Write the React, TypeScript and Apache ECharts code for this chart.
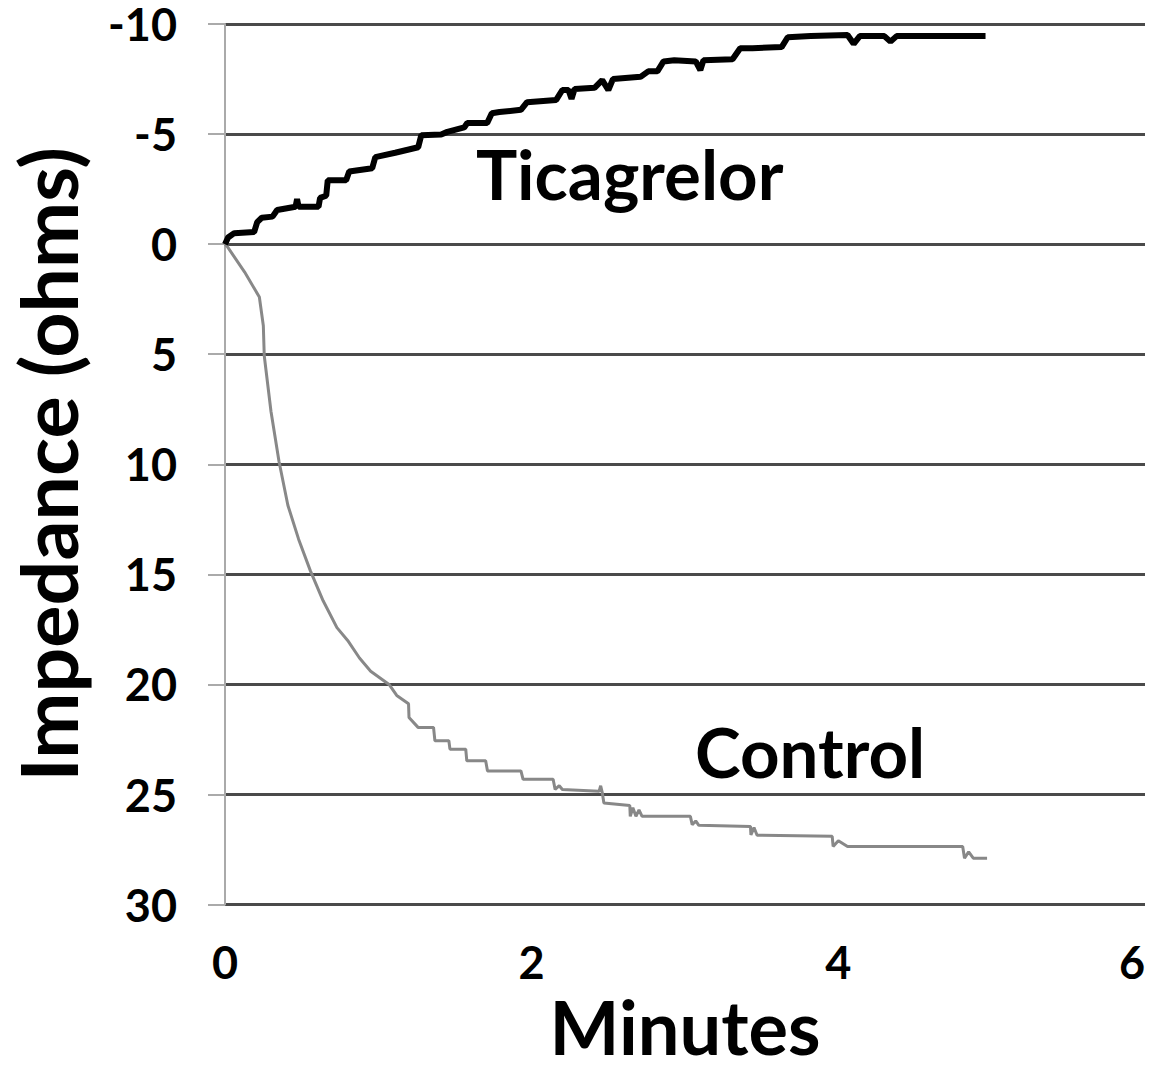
import React, { useEffect, useRef } from "react";
import * as echarts from "echarts";

// Axis ranges / ticks
const xRange = [0, 6];
const xStep = 2;
const yRange = [-10, 30];
const yStep = 5;

const xTitle = "Minutes";
const yTitle = "Impedance (ohms)";
const seriesNames = ["Control", "Ticagrelor"];

// Control (gray) trace: [minutes, ohms]
const controlData: number[][] = [
  [0, 0], [0.013, 0.09], [0.128, 1.27], [0.224, 2.4], [0.25, 3.71], [0.256, 5.07],
  [0.3, 7.6], [0.352, 9.86], [0.41, 11.86], [0.48, 13.4], [0.557, 14.84], [0.64, 16.2],
  [0.73, 17.42], [0.8, 18.0], [0.877, 18.8], [0.95, 19.4], [1.07, 20.0], [1.12, 20.5],
  [1.197, 20.88], [1.2, 21.5], [1.259, 21.95], [1.36, 21.95], [1.369, 22.56], [1.46, 22.56],
  [1.467, 22.94], [1.57, 22.94], [1.577, 23.47], [1.7, 23.47], [1.712, 23.93], [1.93, 23.93],
  [1.944, 24.31], [2.14, 24.31], [2.153, 24.77], [2.18, 24.6], [2.2, 24.77], [2.44, 24.85],
  [2.45, 24.6], [2.46, 24.9], [2.471, 25.38], [2.64, 25.5], [2.643, 25.99], [2.66, 25.6],
  [2.68, 25.99], [2.7, 25.7], [2.72, 25.99], [3.035, 25.99], [3.047, 26.37], [3.07, 26.2],
  [3.09, 26.4], [3.427, 26.45], [3.43, 26.83], [3.45, 26.5], [3.47, 26.85], [3.96, 26.9],
  [3.966, 27.36], [4.0, 27.1], [4.06, 27.36], [4.811, 27.36], [4.823, 27.89], [4.85, 27.6],
  [4.88, 27.89], [4.97, 27.89],
];

// Ticagrelor (black) trace: [minutes, ohms]
const ticagrelorData: number[][] = [
  [0, 0], [0.02, -0.3], [0.06, -0.5], [0.19, -0.55], [0.21, -1.0], [0.24, -1.2],
  [0.31, -1.25], [0.34, -1.55], [0.46, -1.7], [0.47, -2.05], [0.48, -1.7], [0.61, -1.7],
  [0.62, -2.1], [0.66, -2.2], [0.67, -2.9], [0.79, -2.9], [0.81, -3.3], [0.96, -3.45],
  [0.98, -3.95], [1.11, -4.15], [1.26, -4.4], [1.28, -4.95], [1.41, -4.98], [1.45, -5.1],
  [1.56, -5.3], [1.58, -5.5], [1.71, -5.5], [1.74, -5.95], [1.79, -6.0], [1.93, -6.1],
  [1.97, -6.45], [2.16, -6.55], [2.2, -7.0], [2.24, -7.0], [2.26, -6.6], [2.28, -7.05],
  [2.41, -7.1], [2.46, -7.45], [2.5, -7.0], [2.53, -7.5], [2.71, -7.6], [2.76, -7.85],
  [2.82, -7.85], [2.86, -8.3], [2.93, -8.35], [3.07, -8.3], [3.1, -7.9], [3.12, -8.35],
  [3.31, -8.4], [3.36, -8.9], [3.44, -8.9], [3.63, -8.95], [3.67, -9.4], [3.82, -9.45],
  [4.06, -9.5], [4.1, -9.1], [4.14, -9.45], [4.3, -9.45], [4.34, -9.2], [4.38, -9.45],
  [4.48, -9.45], [4.96, -9.45],
];

const FONT = "Lato, 'Open Sans', sans-serif";

export default function App() {
  const ref = useRef<HTMLDivElement>(null);

  useEffect(() => {
    if (!ref.current) return;
    const chart = echarts.init(ref.current, null, { renderer: "svg" });
    chart.setOption({
      animation: false,
      backgroundColor: "#ffffff",
      grid: { left: 213, top: 24, right: 12, bottom: 160, containLabel: false },
      xAxis: {
        type: "value",
        min: xRange[0],
        max: xRange[1],
        interval: xStep,
        name: xTitle,
        nameLocation: "middle",
        nameGap: 86,
        nameTextStyle: { fontFamily: FONT, fontWeight: "bold", fontSize: 74, lineHeight: 60, color: "#000" },
        axisLine: { show: false },
        axisTick: { show: false },
        splitLine: { show: false },
        axisLabel: {
          margin: 38,
          fontFamily: FONT,
          fontWeight: "bold",
          fontSize: 45,
          lineHeight: 38,
          color: "#000",
          alignMaxLabel: "right",
        },
      },
      yAxis: {
        type: "value",
        inverse: true,
        min: yRange[0],
        max: yRange[1],
        interval: yStep,
        name: yTitle,
        nameLocation: "middle",
        nameRotate: 90,
        nameGap: 138,
        nameTextStyle: { fontFamily: FONT, fontWeight: "bold", fontSize: 79, color: "#000" },
        axisLine: { show: true, lineStyle: { color: "#aaaaaa", width: 2 } },
        axisTick: { show: true, length: 17, lineStyle: { color: "#aaaaaa", width: 2 } },
        splitLine: { show: true, lineStyle: { color: "#4a4a4a", width: 3 } },
        axisLabel: {
          margin: 48,
          fontFamily: FONT,
          fontWeight: "bold",
          fontSize: 45,
          lineHeight: 38,
          color: "#000",
        },
      },
      series: [
        {
          name: seriesNames[0],
          type: "line",
          data: controlData,
          showSymbol: false,
          lineStyle: { color: "#888888", width: 3 },
          z: 3,
        },
        {
          name: seriesNames[1],
          type: "line",
          data: ticagrelorData,
          showSymbol: false,
          lineStyle: { color: "#000000", width: 6 },
          z: 4,
        },
      ],
      graphic: [
        {
          type: "text",
          left: 476,
          top: 139,
          style: { text: seriesNames[1], fontFamily: FONT, fontWeight: "bold", fontSize: 69, fill: "#000" },
        },
        {
          type: "text",
          left: 695,
          top: 717,
          style: { text: seriesNames[0], fontFamily: FONT, fontWeight: "bold", fontSize: 69, fill: "#000" },
        },
      ],
    });
    return () => chart.dispose();
  }, []);

  return (
    <div
      ref={ref}
      style={{ position: "absolute", left: 0, top: 0, width: 1157, height: 1068, background: "#fff" }}
    />
  );
}
